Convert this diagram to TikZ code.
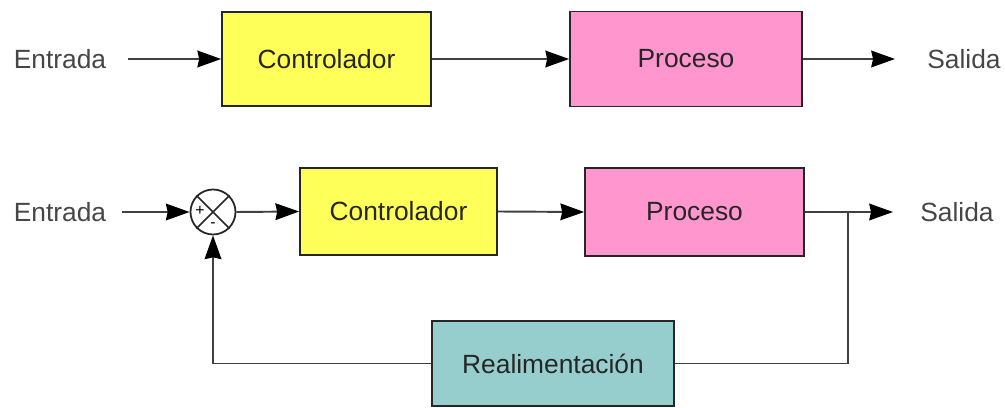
\documentclass[tikz,border=0pt]{standalone}
\usepackage{fontspec}
\setmainfont{Liberation Sans}
\usepackage{tikz}
\usetikzlibrary{arrows,arrows.meta,shapes,positioning,calc}

\definecolor{ctrlyellow}{RGB}{255,255,90}
\definecolor{procpink}{RGB}{255,150,205}
\definecolor{feedteal}{RGB}{150,205,205}
\definecolor{labelgray}{RGB}{70,70,70}

\begin{document}
\begin{tikzpicture}[
    x=0.02cm, y=-0.02cm,
    block/.style={rectangle, draw=black!85, line width=1pt, text=black!85, font=\fontsize{15}{18}\selectfont},
    controller/.style={block, fill=ctrlyellow},
    process/.style={block, fill=procpink},
    feedback/.style={block, fill=feedteal},
    signal/.style={text=labelgray, font=\fontsize{15}{18}\selectfont},
    sumnode/.style={circle, draw=black!85, line width=1pt, minimum size=0.9cm, inner sep=0pt},
    flow/.style={line width=1.1pt, draw=black!75, -{Stealth[length=13.5pt, width=9.5pt, inset=1pt, black]}},
    wire/.style={line width=1.1pt, draw=black!75}
]
\useasboundingbox (0,0) rectangle (1005,408);

% Open loop
\node[signal] (entrada1) at (60,59) {Entrada};
\node[controller, minimum width=4.18cm, minimum height=1.88cm] (ctrl1) at (326.5,59) {Controlador};
\node[process, minimum width=4.64cm, minimum height=1.9cm] (proc1) at (686,59) {Proceso};
\node[signal] (salida1) at (964,59) {Salida};
\coordinate (in1) at (128,59);
\coordinate (out1) at (895,59);

\draw[flow] (in1) -- (ctrl1.west);
\draw[flow] (ctrl1.east) -- (proc1.west);
\draw[flow] (proc1.east) -- (out1);

% Closed loop
\node[signal] (entrada2) at (60,212) {Entrada};
\node[sumnode] (sum) at (213,212) {};
\node[controller, minimum width=3.94cm, minimum height=1.74cm] (ctrl2) at (398.5,211.5) {Controlador};
\node[process, minimum width=4.38cm, minimum height=1.76cm] (proc2) at (694.5,212) {Proceso};
\node[signal] (salida2) at (957,212) {Salida};
\node[feedback, minimum width=4.84cm, minimum height=1.7cm] (real) at (553,363.5) {Realimentación};
\coordinate (in2) at (122,212);
\coordinate (out2) at (893,212);
\coordinate (branch) at (848,212);

% Summing junction
\draw[line width=1pt, black!85] (sum.north west) -- (sum.south east);
\draw[line width=1pt, black!85] (sum.north east) -- (sum.south west);
\node[font=\fontsize{9}{9}\selectfont, inner sep=0pt] (plus) at (200,211) {+};
\node[font=\fontsize{9}{9}\selectfont, inner sep=0pt] (minus) at (213,225) {-};

\draw[flow] (in2) -- (sum.west);
\draw[flow] (sum.east) -- (ctrl2.west);
\draw[flow] (ctrl2.east) -- (proc2.west);
\draw[flow] (proc2.east) -- (out2);

% Feedback path
\draw[wire] (branch) |- (real.east);
\draw[flow] (real.west) -| (sum.south);

\end{tikzpicture}
\end{document}
